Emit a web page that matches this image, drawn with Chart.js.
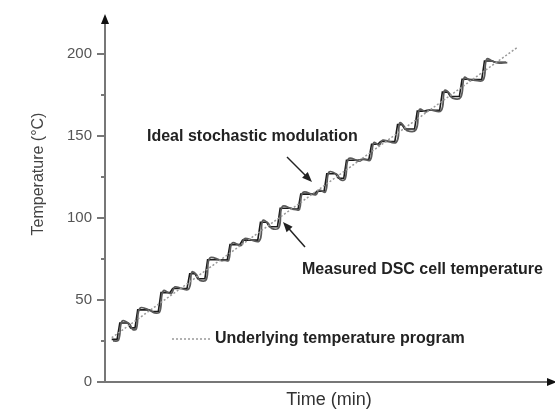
<!DOCTYPE html>
<html>
<head>
<meta charset="utf-8">
<script src="https://cdn.jsdelivr.net/npm/chart.js@4/dist/chart.umd.min.js"></script>
<style>
  html, body { margin: 0; padding: 0; background: #fff; }
  #wrap { width: 555px; height: 414px; }
</style>
</head>
<body>
<div id="wrap"><canvas id="chart" width="555" height="414"></canvas></div>
<script>
// underlying linear program (min, °C)
const underlyingTime = [1.5, 92];
const underlyingTemp = [27, 204];

// ideal stochastic modulation: plateau start/end pairs
const idealTime = [1.5, 2.7, 3.3, 5.1, 5.7, 6.7, 7.3, 9.9, 10.5, 11.9, 12.5, 14.5, 15.1, 18.3,
  18.9, 20.1, 20.7, 22.3, 22.9, 25.7, 26.3, 27.3, 27.9, 30.1, 30.7, 34.1, 34.7, 36.1,
  36.7, 38.5, 39.1, 41.5, 42.1, 43.1, 43.7, 46.7, 47.3, 48.9, 49.5, 51.5, 52.1, 53.3,
  53.9, 56.5, 57.1, 58.9, 59.5, 60.9, 61.5, 64.7, 65.3, 66.3, 66.9, 69.1, 69.7, 71.3,
  71.9, 74.7, 75.3, 76.5, 77.1, 79.1, 79.7, 81.1, 81.7, 84.1, 84.7, 86.5, 87.1, 89.5];
const idealTemp = [26, 26, 36, 36, 33, 33, 44, 44, 43, 43, 54.5, 54.5, 57, 57,
  66, 66, 63, 63, 74.6, 74.6, 74.5, 74.5, 83.8, 83.8, 86.5, 86.5, 97.4, 97.4,
  94.7, 94.7, 106, 106, 105.5, 105.5, 114.6, 114.6, 116.3, 116.3, 127, 127, 124.3, 124.3,
  135.2, 135.2, 135.7, 135.7, 145, 145, 146.7, 146.7, 157, 157, 154.3, 154.3, 165.2, 165.2,
  165.7, 165.7, 176.8, 176.8, 174.1, 174.1, 184.6, 184.6, 184.5, 184.5, 195.8, 195.8, 195, 195];

// measured DSC cell temperature (lagged, rounded)
const measuredTime = [1.8, 3.0, 3.8, 5.4, 6.2, 7.0, 7.8, 10.2, 11.0, 12.2, 13.0, 14.8, 15.6, 18.6,
  19.4, 20.4, 21.2, 22.6, 23.4, 26.0, 26.8, 27.6, 28.4, 30.4, 31.2, 34.4, 35.2, 36.4,
  37.2, 38.8, 39.6, 41.8, 42.6, 43.4, 44.2, 47.0, 47.8, 49.2, 50.0, 51.8, 52.6, 53.6,
  54.4, 56.8, 57.6, 59.2, 60.0, 61.2, 62.0, 65.0, 65.8, 66.6, 67.4, 69.4, 70.2, 71.6,
  72.4, 75.0, 75.8, 76.8, 77.6, 79.4, 80.2, 81.4, 82.2, 84.4, 85.2, 86.8, 87.6, 89.8];
const measuredTemp = [25, 25.5, 37, 35.5, 32, 32.5, 45, 43.5, 42.2, 42.7, 55.5, 54, 58, 56.5,
  67, 65.5, 62, 62.5, 75.6, 74.1, 74.2, 74.2, 84.8, 83.3, 87.5, 86, 98.4, 96.9,
  93.7, 94.2, 107, 105.5, 105.2, 105.2, 115.6, 114.1, 117, 116, 128, 126.5, 123.3, 123.8,
  136.2, 134.7, 136, 135.4, 146, 144.5, 147.5, 146.2, 158, 156.5, 153.3, 153.8, 166.2, 164.7,
  166, 165.4, 177.8, 176.3, 173.1, 173.6, 185.6, 184.1, 184.2, 184.2, 196.8, 195.3, 194.6, 194.8];

const yTicks = [0, 50, 100, 150, 200];
const yMinorTicks = [25, 75, 125, 175];

const FONT = "'Liberation Sans', Arial, sans-serif";
const AXIS = "#777";

function pts(xs, ys) {
  return xs.map((x, i) => ({ x, y: ys[i] }));
}

function arrow(ctx, x1, y1, x2, y2) {
  const a = Math.atan2(y2 - y1, x2 - x1);
  ctx.beginPath();
  ctx.moveTo(x1, y1);
  ctx.lineTo(x2 - 6 * Math.cos(a), y2 - 6 * Math.sin(a));
  ctx.stroke();
  ctx.beginPath();
  ctx.moveTo(x2, y2);
  ctx.lineTo(x2 - 10 * Math.cos(a) + 4 * Math.sin(a), y2 - 10 * Math.sin(a) - 4 * Math.cos(a));
  ctx.lineTo(x2 - 10 * Math.cos(a) - 4 * Math.sin(a), y2 - 10 * Math.sin(a) + 4 * Math.cos(a));
  ctx.closePath();
  ctx.fill();
}

const decorations = {
  id: "decorations",
  afterDraw(chart) {
    const { ctx, chartArea } = chart;
    const y = chart.scales.y;
    ctx.save();

    // minor ticks
    ctx.strokeStyle = AXIS;
    ctx.lineWidth = 2;
    yMinorTicks.forEach(v => {
      const py = Math.round(y.getPixelForValue(v));
      ctx.beginPath();
      ctx.moveTo(chartArea.left - 4, py);
      ctx.lineTo(chartArea.left, py);
      ctx.stroke();
    });

    // axis arrowheads
    ctx.fillStyle = "#111";
    ctx.beginPath();
    ctx.moveTo(chartArea.left, chartArea.top - 4);
    ctx.lineTo(chartArea.left - 4, chartArea.top + 6);
    ctx.lineTo(chartArea.left + 4, chartArea.top + 6);
    ctx.closePath();
    ctx.fill();
    ctx.beginPath();
    ctx.moveTo(chartArea.right + 4, chartArea.bottom);
    ctx.lineTo(chartArea.right - 6, chartArea.bottom - 4);
    ctx.lineTo(chartArea.right - 6, chartArea.bottom + 4);
    ctx.closePath();
    ctx.fill();

    // y title
    ctx.save();
    ctx.translate(39, 174);
    ctx.rotate(-Math.PI / 2);
    ctx.font = "16px " + FONT;
    ctx.fillStyle = "#444";
    ctx.textAlign = "center";
    ctx.textBaseline = "middle";
    ctx.fillText("Temperature (°C)", 0, 0);
    ctx.restore();

    // annotations
    ctx.fillStyle = "#222";
    ctx.textBaseline = "middle";
    ctx.textAlign = "left";
    ctx.font = "bold 16px " + FONT;
    ctx.fillText("Ideal stochastic modulation", 147, 137);
    ctx.fillText("Measured DSC cell temperature", 302, 270);
    ctx.fillText("Underlying temperature program", 215, 339);

    ctx.strokeStyle = "#222";
    ctx.fillStyle = "#222";
    ctx.lineWidth = 1.5;
    arrow(ctx, 287, 157, 312, 182);
    arrow(ctx, 305, 247, 283, 222);

    // legend sample for dotted line
    ctx.strokeStyle = "#999";
    ctx.lineWidth = 1.5;
    ctx.setLineDash([2, 2]);
    ctx.beginPath();
    ctx.moveTo(172, 339);
    ctx.lineTo(212, 339);
    ctx.stroke();
    ctx.restore();
  }
};

new Chart(document.getElementById("chart"), {
  type: "line",
  data: {
    datasets: [
      {
        label: "Underlying temperature program",
        data: pts(underlyingTime, underlyingTemp),
        borderColor: "#999",
        borderWidth: 1.5,
        borderDash: [2, 2],
        pointRadius: 0,
        tension: 0
      },
      {
        label: "Measured DSC cell temperature",
        data: pts(measuredTime, measuredTemp),
        borderColor: "#5a5a5a",
        borderWidth: 1.8,
        pointRadius: 0,
        tension: 0.4
      },
      {
        label: "Ideal stochastic modulation",
        data: pts(idealTime, idealTemp),
        borderColor: "#1a1a1a",
        borderWidth: 1.6,
        pointRadius: 0,
        tension: 0
      }
    ]
  },
  options: {
    responsive: false,
    devicePixelRatio: 1,
    animation: false,
    layout: { padding: { top: 18, right: 2, left: 0, bottom: 0 } },
    plugins: { legend: { display: false }, tooltip: { enabled: false } },
    scales: {
      x: {
        type: "linear",
        min: 0,
        max: 100,
        grid: { display: false },
        border: { color: AXIS, width: 2 },
        ticks: { display: false },
        title: {
          display: true,
          text: "Time (min)",
          font: { family: FONT, size: 18 },
          color: "#333",
          padding: { top: 0, bottom: 3 }
        },
        afterFit: s => { s.height = 32; }
      },
      y: {
        min: 0,
        max: 222,
        afterBuildTicks: s => { s.ticks = yTicks.map(v => ({ value: v })); },
        grid: { drawOnChartArea: false, tickLength: 8, color: AXIS, lineWidth: 2 },
        border: { color: AXIS, width: 2 },
        ticks: {
          padding: 5,
          color: "#555",
          font: { family: FONT, size: 15 }
        },
        afterFit: s => { s.width = 105; }
      }
    }
  },
  plugins: [decorations]
});
</script>
</body>
</html>
